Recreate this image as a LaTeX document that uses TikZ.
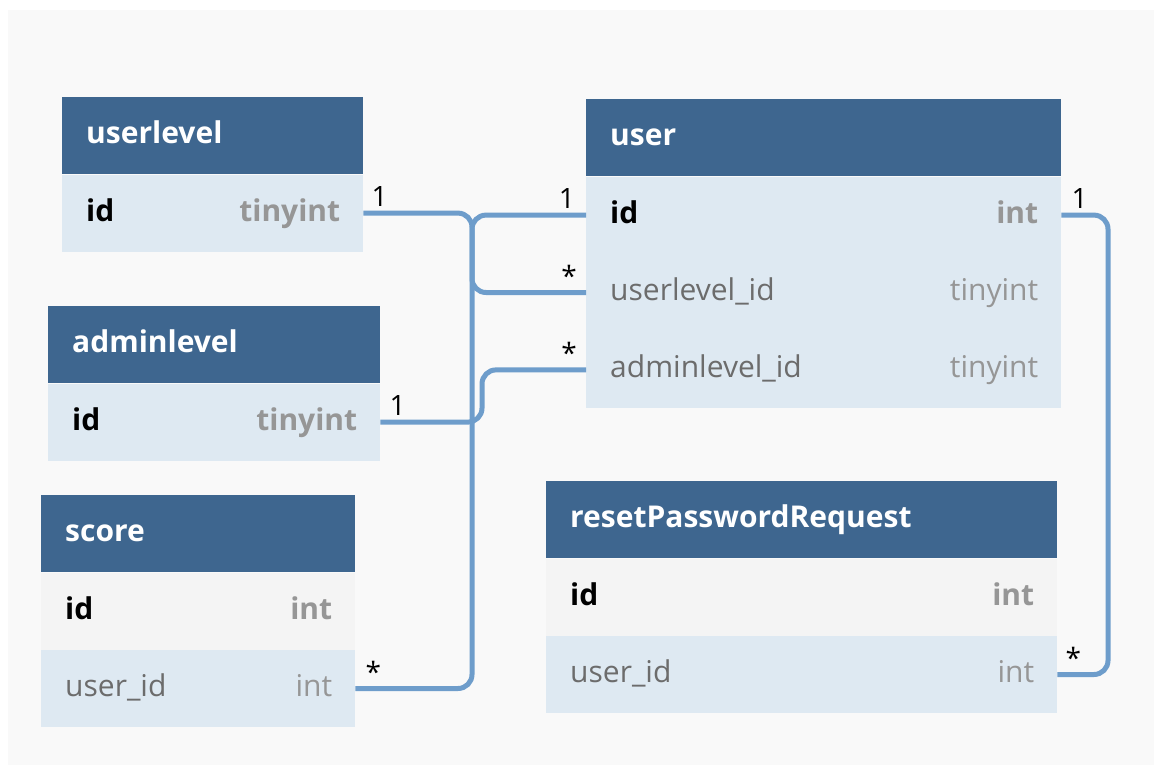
\documentclass[tikz,border=0pt]{standalone}
\usepackage{fontspec}
\setmainfont{Open Sans}
\usetikzlibrary{positioning}
\definecolor{hdrblue}{RGB}{62,102,143}
\definecolor{rowblue}{RGB}{222,233,242}
\definecolor{rowgray}{RGB}{244,244,244}
\definecolor{bggray}{RGB}{249,249,249}
\definecolor{linkblue}{RGB}{110,157,203}
\definecolor{typegray}{RGB}{150,150,150}
\definecolor{namegray}{RGB}{108,108,108}

\begin{document}
\begin{tikzpicture}[x=1pt,y=-1pt]
                    \tikzstyle{every node}+=[inner sep=0pt]
                    \tikzstyle{hdr}=[fill=hdrblue, minimum height=77, anchor=north west]
                    \tikzstyle{fkrow}=[fill=rowblue, minimum height=77, anchor=north west]
                    \tikzstyle{pkrow}=[fill=rowgray, minimum height=77, anchor=north west]
                    \tikzstyle{txt}=[text height=22, text depth=6]
                    \tikzstyle{title}=[txt, text=white, font=\fontsize{30}{36}\selectfont\bfseries]
                    \tikzstyle{pkname}=[txt, text=black, font=\fontsize{30}{36}\selectfont\bfseries]
                    \tikzstyle{pktype}=[txt, text=typegray, font=\fontsize{30}{36}\selectfont\bfseries]
                    \tikzstyle{fkname}=[txt, text=namegray, font=\fontsize{30}{36}\selectfont]
                    \tikzstyle{fktype}=[txt, text=typegray, font=\fontsize{30}{36}\selectfont]
                    \tikzstyle{card}=[text=black, font=\fontsize{28}{34}\selectfont]
                    \tikzstyle{link}=[draw=linkblue, line width=5, rounded corners=14]
                    \useasboundingbox (0,0) rectangle (1154,765);
                    \fill [bggray] (8,10) rectangle (1154,765);
                    % userlevel
                    \node [hdr, minimum width=301] (ulhead) at (62,97) {};
                    \node [title, right=24pt of ulhead.west] {userlevel};
                    \node [fkrow, minimum width=301] (ulid) at (ulhead.south west) {};
                    \node [pkname, right=24pt of ulid.west] {id};
                    \node [pktype, left=23pt of ulid.east] {tinyint};
                    % adminlevel
                    \node [hdr, minimum width=332] (adhead) at (48,306) {};
                    \node [title, right=24pt of adhead.west] {adminlevel};
                    \node [fkrow, minimum width=332] (adid) at (adhead.south west) {};
                    \node [pkname, right=24pt of adid.west] {id};
                    \node [pktype, left=23pt of adid.east] {tinyint};
                    % score
                    \node [hdr, minimum width=314] (schead) at (41,495) {};
                    \node [title, right=24pt of schead.west] {score};
                    \node [pkrow, minimum width=314] (scid) at (schead.south west) {};
                    \node [pkname, right=24pt of scid.west] {id};
                    \node [pktype, left=23pt of scid.east] {int};
                    \node [fkrow, minimum width=314] (scuid) at (scid.south west) {};
                    \node [fkname, right=24pt of scuid.west] {user\_id};
                    \node [fktype, left=23pt of scuid.east] {int};
                    % user
                    \node [hdr, minimum width=475] (usrhead) at (586,99) {};
                    \node [title, right=24pt of usrhead.west] {user};
                    \node [fkrow, minimum width=475] (usrid) at (usrhead.south west) {};
                    \node [pkname, right=24pt of usrid.west] {id};
                    \node [pktype, left=23pt of usrid.east] {int};
                    \node [fkrow, minimum width=475] (usrulvl) at (usrid.south west) {};
                    \node [fkname, right=24pt of usrulvl.west] {userlevel\_id};
                    \node [fktype, left=23pt of usrulvl.east] {tinyint};
                    \node [fkrow, minimum width=475] (usradm) at (usrulvl.south west) {};
                    \node [fkname, right=24pt of usradm.west] {adminlevel\_id};
                    \node [fktype, left=23pt of usradm.east] {tinyint};
                    % resetPasswordRequest
                    \node [hdr, minimum width=511] (rprhead) at (546,481) {};
                    \node [title, right=24pt of rprhead.west] {resetPasswordRequest};
                    \node [pkrow, minimum width=511] (rprid) at (rprhead.south west) {};
                    \node [pkname, right=24pt of rprid.west] {id};
                    \node [pktype, left=23pt of rprid.east] {int};
                    \node [fkrow, minimum width=511] (rpruid) at (rprid.south west) {};
                    \node [fkname, right=24pt of rpruid.west] {user\_id};
                    \node [fktype, left=23pt of rpruid.east] {int};
                    % links
                    \coordinate (lbus) at (472,0);
                    \coordinate (abus) at (482,0);
                    \coordinate (rbus) at (1108,0);
                    \draw [link] (ulid.east) -| (lbus |- usrulvl.west) -- (usrulvl.west);
                    \draw [link] (scuid.east) -| (lbus |- usrid.west) -- (usrid.west);
                    \draw [link] (adid.east) -| (abus |- usradm.west) -- (usradm.west);
                    \draw [link] (usrid.east) -| (rbus |- rpruid.east) -- (rpruid.east);
                    \node [card, above right=6pt and 8pt of ulid.east] {1};
                    \node [card, above left=6pt and 11pt of usrid.west] {1};
                    \node [card, above left=6pt and 9pt of usrulvl.west] {*};
                    \node [card, above left=6pt and 9pt of usradm.west] {*};
                    \node [card, above right=6pt and 9pt of adid.east] {1};
                    \node [card, above right=6pt and 10pt of scuid.east] {*};
                    \node [card, above right=6pt and 10pt of usrid.east] {1};
                    \node [card, above right=6pt and 8pt of rpruid.east] {*};
\end{tikzpicture}
\end{document}
